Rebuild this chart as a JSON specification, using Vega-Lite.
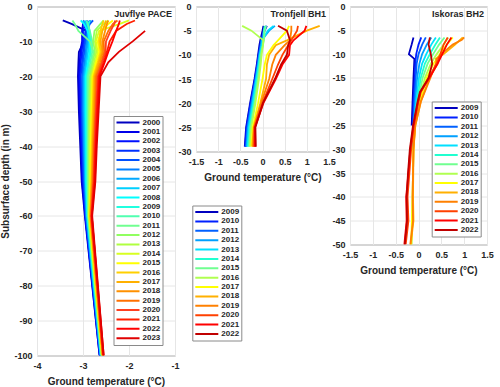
{
"$schema":"https://vega.github.io/schema/vega-lite/v6.json",
"padding":{"left":0,"top":1.5,"right":2,"bottom":2},
"bounds":"flush",
"spacing":21,
"datasets":{
"juv":[
{"y":"2000","d":-4,"t":-3.44},{"y":"2000","d":-5,"t":-3.25},{"y":"2000","d":-7,"t":-2.92},{"y":"2000","d":-10,"t":-2.98},{"y":"2000","d":-13,"t":-3.09},{"y":"2000","d":-16,"t":-3.10},{"y":"2000","d":-20,"t":-3.11},{"y":"2000","d":-30,"t":-3.09},{"y":"2000","d":-40,"t":-3.06},{"y":"2000","d":-50,"t":-3.03},{"y":"2000","d":-60,"t":-2.96},{"y":"2000","d":-100,"t":-2.64},
{"y":"2001","d":-4,"t":-2.98},{"y":"2001","d":-5,"t":-3.00},{"y":"2001","d":-7,"t":-3.02},{"y":"2001","d":-10,"t":-3.02},{"y":"2001","d":-13,"t":-3.06},{"y":"2001","d":-16,"t":-3.07},{"y":"2001","d":-20,"t":-3.09},{"y":"2001","d":-30,"t":-3.07},{"y":"2001","d":-40,"t":-3.04},{"y":"2001","d":-50,"t":-3.02},{"y":"2001","d":-60,"t":-2.95},{"y":"2001","d":-100,"t":-2.64},
{"y":"2002","d":-4,"t":-2.90},{"y":"2002","d":-5,"t":-2.95},{"y":"2002","d":-7,"t":-3.00},{"y":"2002","d":-10,"t":-3.00},{"y":"2002","d":-13,"t":-3.03},{"y":"2002","d":-16,"t":-3.05},{"y":"2002","d":-20,"t":-3.07},{"y":"2002","d":-30,"t":-3.05},{"y":"2002","d":-40,"t":-3.03},{"y":"2002","d":-50,"t":-3.00},{"y":"2002","d":-60,"t":-2.95},{"y":"2002","d":-100,"t":-2.63},
{"y":"2003","d":-4,"t":-2.85},{"y":"2003","d":-5,"t":-2.90},{"y":"2003","d":-7,"t":-2.95},{"y":"2003","d":-10,"t":-2.97},{"y":"2003","d":-13,"t":-3.00},{"y":"2003","d":-16,"t":-3.02},{"y":"2003","d":-20,"t":-3.05},{"y":"2003","d":-30,"t":-3.03},{"y":"2003","d":-40,"t":-3.01},{"y":"2003","d":-50,"t":-2.99},{"y":"2003","d":-60,"t":-2.94},{"y":"2003","d":-100,"t":-2.63},
{"y":"2004","d":-4,"t":-2.78},{"y":"2004","d":-5,"t":-2.85},{"y":"2004","d":-7,"t":-2.92},{"y":"2004","d":-10,"t":-2.95},{"y":"2004","d":-13,"t":-2.97},{"y":"2004","d":-16,"t":-3.00},{"y":"2004","d":-20,"t":-3.02},{"y":"2004","d":-30,"t":-3.02},{"y":"2004","d":-40,"t":-3.00},{"y":"2004","d":-50,"t":-2.98},{"y":"2004","d":-60,"t":-2.93},{"y":"2004","d":-100,"t":-2.62},
{"y":"2005","d":-4,"t":-2.82},{"y":"2005","d":-5,"t":-2.88},{"y":"2005","d":-7,"t":-2.90},{"y":"2005","d":-10,"t":-2.92},{"y":"2005","d":-13,"t":-2.94},{"y":"2005","d":-16,"t":-2.97},{"y":"2005","d":-20,"t":-3.00},{"y":"2005","d":-30,"t":-3.00},{"y":"2005","d":-40,"t":-2.98},{"y":"2005","d":-50,"t":-2.96},{"y":"2005","d":-60,"t":-2.93},{"y":"2005","d":-100,"t":-2.62},
{"y":"2006","d":-4,"t":-3.00},{"y":"2006","d":-5,"t":-2.95},{"y":"2006","d":-7,"t":-2.88},{"y":"2006","d":-10,"t":-2.90},{"y":"2006","d":-13,"t":-2.92},{"y":"2006","d":-16,"t":-2.94},{"y":"2006","d":-20,"t":-2.98},{"y":"2006","d":-30,"t":-2.98},{"y":"2006","d":-40,"t":-2.97},{"y":"2006","d":-50,"t":-2.95},{"y":"2006","d":-60,"t":-2.92},{"y":"2006","d":-100,"t":-2.62},
{"y":"2007","d":-4,"t":-2.95},{"y":"2007","d":-5,"t":-2.92},{"y":"2007","d":-7,"t":-2.87},{"y":"2007","d":-10,"t":-2.87},{"y":"2007","d":-13,"t":-2.89},{"y":"2007","d":-16,"t":-2.92},{"y":"2007","d":-20,"t":-2.96},{"y":"2007","d":-30,"t":-2.96},{"y":"2007","d":-40,"t":-2.95},{"y":"2007","d":-50,"t":-2.94},{"y":"2007","d":-60,"t":-2.91},{"y":"2007","d":-100,"t":-2.61},
{"y":"2008","d":-4,"t":-3.05},{"y":"2008","d":-5,"t":-2.98},{"y":"2008","d":-7,"t":-2.90},{"y":"2008","d":-10,"t":-2.85},{"y":"2008","d":-13,"t":-2.86},{"y":"2008","d":-16,"t":-2.89},{"y":"2008","d":-20,"t":-2.94},{"y":"2008","d":-30,"t":-2.94},{"y":"2008","d":-40,"t":-2.93},{"y":"2008","d":-50,"t":-2.93},{"y":"2008","d":-60,"t":-2.90},{"y":"2008","d":-100,"t":-2.61},
{"y":"2009","d":-4,"t":-2.85},{"y":"2009","d":-5,"t":-2.88},{"y":"2009","d":-7,"t":-2.86},{"y":"2009","d":-10,"t":-2.83},{"y":"2009","d":-13,"t":-2.83},{"y":"2009","d":-16,"t":-2.87},{"y":"2009","d":-20,"t":-2.92},{"y":"2009","d":-30,"t":-2.92},{"y":"2009","d":-40,"t":-2.92},{"y":"2009","d":-50,"t":-2.91},{"y":"2009","d":-60,"t":-2.90},{"y":"2009","d":-100,"t":-2.60},
{"y":"2010","d":-4,"t":-2.92},{"y":"2010","d":-5,"t":-2.90},{"y":"2010","d":-7,"t":-2.85},{"y":"2010","d":-10,"t":-2.80},{"y":"2010","d":-13,"t":-2.80},{"y":"2010","d":-16,"t":-2.84},{"y":"2010","d":-20,"t":-2.90},{"y":"2010","d":-30,"t":-2.90},{"y":"2010","d":-40,"t":-2.90},{"y":"2010","d":-50,"t":-2.90},{"y":"2010","d":-60,"t":-2.89},{"y":"2010","d":-100,"t":-2.60},
{"y":"2011","d":-4,"t":-3.23},{"y":"2011","d":-5,"t":-3.18},{"y":"2011","d":-7,"t":-3.10},{"y":"2011","d":-10,"t":-2.85},{"y":"2011","d":-13,"t":-2.77},{"y":"2011","d":-16,"t":-2.81},{"y":"2011","d":-20,"t":-2.88},{"y":"2011","d":-30,"t":-2.88},{"y":"2011","d":-40,"t":-2.89},{"y":"2011","d":-50,"t":-2.89},{"y":"2011","d":-60,"t":-2.88},{"y":"2011","d":-100,"t":-2.60},
{"y":"2012","d":-4,"t":-2.55},{"y":"2012","d":-5,"t":-2.62},{"y":"2012","d":-7,"t":-2.75},{"y":"2012","d":-10,"t":-2.78},{"y":"2012","d":-13,"t":-2.74},{"y":"2012","d":-16,"t":-2.79},{"y":"2012","d":-20,"t":-2.85},{"y":"2012","d":-30,"t":-2.87},{"y":"2012","d":-40,"t":-2.87},{"y":"2012","d":-50,"t":-2.87},{"y":"2012","d":-60,"t":-2.88},{"y":"2012","d":-100,"t":-2.59},
{"y":"2013","d":-4,"t":-2.45},{"y":"2013","d":-5,"t":-2.55},{"y":"2013","d":-7,"t":-2.70},{"y":"2013","d":-10,"t":-2.74},{"y":"2013","d":-13,"t":-2.71},{"y":"2013","d":-16,"t":-2.76},{"y":"2013","d":-20,"t":-2.83},{"y":"2013","d":-30,"t":-2.85},{"y":"2013","d":-40,"t":-2.86},{"y":"2013","d":-50,"t":-2.86},{"y":"2013","d":-60,"t":-2.87},{"y":"2013","d":-100,"t":-2.59},
{"y":"2014","d":-4,"t":-2.00},{"y":"2014","d":-5,"t":-2.20},{"y":"2014","d":-7,"t":-2.65},{"y":"2014","d":-10,"t":-2.72},{"y":"2014","d":-13,"t":-2.68},{"y":"2014","d":-16,"t":-2.73},{"y":"2014","d":-20,"t":-2.81},{"y":"2014","d":-30,"t":-2.83},{"y":"2014","d":-40,"t":-2.84},{"y":"2014","d":-50,"t":-2.85},{"y":"2014","d":-60,"t":-2.86},{"y":"2014","d":-100,"t":-2.59},
{"y":"2015","d":-4,"t":-2.35},{"y":"2015","d":-5,"t":-2.45},{"y":"2015","d":-7,"t":-2.60},{"y":"2015","d":-10,"t":-2.68},{"y":"2015","d":-13,"t":-2.65},{"y":"2015","d":-16,"t":-2.71},{"y":"2015","d":-20,"t":-2.79},{"y":"2015","d":-30,"t":-2.81},{"y":"2015","d":-40,"t":-2.83},{"y":"2015","d":-50,"t":-2.83},{"y":"2015","d":-60,"t":-2.86},{"y":"2015","d":-100,"t":-2.58},
{"y":"2016","d":-4,"t":-2.55},{"y":"2016","d":-5,"t":-2.58},{"y":"2016","d":-7,"t":-2.62},{"y":"2016","d":-10,"t":-2.65},{"y":"2016","d":-13,"t":-2.62},{"y":"2016","d":-16,"t":-2.68},{"y":"2016","d":-20,"t":-2.77},{"y":"2016","d":-30,"t":-2.79},{"y":"2016","d":-40,"t":-2.81},{"y":"2016","d":-50,"t":-2.82},{"y":"2016","d":-60,"t":-2.85},{"y":"2016","d":-100,"t":-2.58},
{"y":"2017","d":-4,"t":-2.50},{"y":"2017","d":-5,"t":-2.52},{"y":"2017","d":-7,"t":-2.58},{"y":"2017","d":-10,"t":-2.62},{"y":"2017","d":-13,"t":-2.59},{"y":"2017","d":-16,"t":-2.66},{"y":"2017","d":-20,"t":-2.75},{"y":"2017","d":-30,"t":-2.77},{"y":"2017","d":-40,"t":-2.79},{"y":"2017","d":-50,"t":-2.81},{"y":"2017","d":-60,"t":-2.84},{"y":"2017","d":-100,"t":-2.57},
{"y":"2018","d":-4,"t":-2.45},{"y":"2018","d":-5,"t":-2.48},{"y":"2018","d":-7,"t":-2.52},{"y":"2018","d":-10,"t":-2.58},{"y":"2018","d":-13,"t":-2.57},{"y":"2018","d":-16,"t":-2.63},{"y":"2018","d":-20,"t":-2.73},{"y":"2018","d":-30,"t":-2.75},{"y":"2018","d":-40,"t":-2.78},{"y":"2018","d":-50,"t":-2.80},{"y":"2018","d":-60,"t":-2.83},{"y":"2018","d":-100,"t":-2.57},
{"y":"2019","d":-4,"t":-2.25},{"y":"2019","d":-5,"t":-2.35},{"y":"2019","d":-7,"t":-2.45},{"y":"2019","d":-10,"t":-2.55},{"y":"2019","d":-13,"t":-2.54},{"y":"2019","d":-16,"t":-2.60},{"y":"2019","d":-20,"t":-2.71},{"y":"2019","d":-30,"t":-2.73},{"y":"2019","d":-40,"t":-2.76},{"y":"2019","d":-50,"t":-2.78},{"y":"2019","d":-60,"t":-2.83},{"y":"2019","d":-100,"t":-2.57},
{"y":"2020","d":-4,"t":-2.30},{"y":"2020","d":-5,"t":-2.32},{"y":"2020","d":-7,"t":-2.40},{"y":"2020","d":-10,"t":-2.50},{"y":"2020","d":-13,"t":-2.51},{"y":"2020","d":-16,"t":-2.58},{"y":"2020","d":-20,"t":-2.68},{"y":"2020","d":-30,"t":-2.72},{"y":"2020","d":-40,"t":-2.75},{"y":"2020","d":-50,"t":-2.77},{"y":"2020","d":-60,"t":-2.82},{"y":"2020","d":-100,"t":-2.56},
{"y":"2021","d":-4,"t":-1.87},{"y":"2021","d":-5,"t":-2.05},{"y":"2021","d":-7,"t":-2.28},{"y":"2021","d":-10,"t":-2.42},{"y":"2021","d":-13,"t":-2.48},{"y":"2021","d":-16,"t":-2.55},{"y":"2021","d":-20,"t":-2.66},{"y":"2021","d":-30,"t":-2.70},{"y":"2021","d":-40,"t":-2.73},{"y":"2021","d":-50,"t":-2.76},{"y":"2021","d":-60,"t":-2.81},{"y":"2021","d":-100,"t":-2.56},
{"y":"2022","d":-4,"t":-2.20},{"y":"2022","d":-5,"t":-2.22},{"y":"2022","d":-7,"t":-2.28},{"y":"2022","d":-10,"t":-2.36},{"y":"2022","d":-13,"t":-2.45},{"y":"2022","d":-16,"t":-2.53},{"y":"2022","d":-20,"t":-2.64},{"y":"2022","d":-30,"t":-2.68},{"y":"2022","d":-40,"t":-2.72},{"y":"2022","d":-50,"t":-2.74},{"y":"2022","d":-60,"t":-2.81},{"y":"2022","d":-100,"t":-2.55},
{"y":"2023","d":-7,"t":-1.65},{"y":"2023","d":-10,"t":-1.92},{"y":"2023","d":-13,"t":-2.22},{"y":"2023","d":-16,"t":-2.45},{"y":"2023","d":-20,"t":-2.62},{"y":"2023","d":-30,"t":-2.66},{"y":"2023","d":-40,"t":-2.70},{"y":"2023","d":-50,"t":-2.73},{"y":"2023","d":-60,"t":-2.80},{"y":"2023","d":-100,"t":-2.55}
],
"tron":[
{"y":"2009","d":-4,"t":0.02},{"y":"2009","d":-5,"t":0.0},{"y":"2009","d":-7,"t":-0.05},{"y":"2009","d":-8,"t":-0.07},{"y":"2009","d":-10,"t":-0.10},{"y":"2009","d":-12,"t":-0.13},{"y":"2009","d":-15,"t":-0.18},{"y":"2009","d":-20,"t":-0.28},{"y":"2009","d":-25,"t":-0.37},{"y":"2009","d":-29,"t":-0.40},
{"y":"2010","d":-4,"t":0.10},{"y":"2010","d":-5,"t":0.05},{"y":"2010","d":-7,"t":-0.03},{"y":"2010","d":-8,"t":-0.05},{"y":"2010","d":-10,"t":-0.09},{"y":"2010","d":-12,"t":-0.12},{"y":"2010","d":-15,"t":-0.17},{"y":"2010","d":-20,"t":-0.27},{"y":"2010","d":-25,"t":-0.36},{"y":"2010","d":-29,"t":-0.39},
{"y":"2011","d":-4,"t":0.08},{"y":"2011","d":-5,"t":0.03},{"y":"2011","d":-7,"t":-0.02},{"y":"2011","d":-8,"t":-0.04},{"y":"2011","d":-10,"t":-0.08},{"y":"2011","d":-12,"t":-0.11},{"y":"2011","d":-15,"t":-0.16},{"y":"2011","d":-20,"t":-0.25},{"y":"2011","d":-25,"t":-0.34},{"y":"2011","d":-29,"t":-0.37},
{"y":"2012","d":-4,"t":0.28},{"y":"2012","d":-5,"t":0.15},{"y":"2012","d":-7,"t":-0.02},{"y":"2012","d":-8,"t":-0.03},{"y":"2012","d":-10,"t":-0.07},{"y":"2012","d":-12,"t":-0.10},{"y":"2012","d":-15,"t":-0.15},{"y":"2012","d":-20,"t":-0.24},{"y":"2012","d":-25,"t":-0.33},{"y":"2012","d":-29,"t":-0.36},
{"y":"2013","d":-4,"t":0.25},{"y":"2013","d":-5,"t":0.12},{"y":"2013","d":-7,"t":0.0},{"y":"2013","d":-8,"t":-0.02},{"y":"2013","d":-10,"t":-0.06},{"y":"2013","d":-12,"t":-0.09},{"y":"2013","d":-15,"t":-0.14},{"y":"2013","d":-20,"t":-0.22},{"y":"2013","d":-25,"t":-0.31},{"y":"2013","d":-29,"t":-0.34},
{"y":"2014","d":-4,"t":0.05},{"y":"2014","d":-5,"t":0.03},{"y":"2014","d":-7,"t":0.02},{"y":"2014","d":-8,"t":0.0},{"y":"2014","d":-10,"t":-0.05},{"y":"2014","d":-12,"t":-0.08},{"y":"2014","d":-15,"t":-0.12},{"y":"2014","d":-20,"t":-0.20},{"y":"2014","d":-25,"t":-0.29},{"y":"2014","d":-29,"t":-0.32},
{"y":"2015","d":-4,"t":0.08},{"y":"2015","d":-5,"t":0.05},{"y":"2015","d":-7,"t":0.03},{"y":"2015","d":-8,"t":0.01},{"y":"2015","d":-10,"t":-0.04},{"y":"2015","d":-12,"t":-0.06},{"y":"2015","d":-15,"t":-0.10},{"y":"2015","d":-20,"t":-0.18},{"y":"2015","d":-25,"t":-0.27},{"y":"2015","d":-29,"t":-0.30},
{"y":"2016","d":-4,"t":-0.46},{"y":"2016","d":-5,"t":-0.25},{"y":"2016","d":-7,"t":0.02},{"y":"2016","d":-8,"t":0.01},{"y":"2016","d":-10,"t":-0.02},{"y":"2016","d":-12,"t":-0.04},{"y":"2016","d":-15,"t":-0.08},{"y":"2016","d":-20,"t":-0.16},{"y":"2016","d":-25,"t":-0.25},{"y":"2016","d":-29,"t":-0.28},
{"y":"2017","d":-4,"t":0.60},{"y":"2017","d":-5,"t":0.55},{"y":"2017","d":-7,"t":0.35},{"y":"2017","d":-8,"t":0.25},{"y":"2017","d":-10,"t":0.10},{"y":"2017","d":-12,"t":0.05},{"y":"2017","d":-15,"t":0.0},{"y":"2017","d":-20,"t":-0.10},{"y":"2017","d":-25,"t":-0.22},{"y":"2017","d":-29,"t":-0.25},
{"y":"2018","d":-4,"t":1.29},{"y":"2018","d":-5,"t":1.00},{"y":"2018","d":-7,"t":0.55},{"y":"2018","d":-8,"t":0.30},{"y":"2018","d":-10,"t":0.15},{"y":"2018","d":-12,"t":0.10},{"y":"2018","d":-15,"t":0.08},{"y":"2018","d":-20,"t":-0.05},{"y":"2018","d":-25,"t":-0.20},{"y":"2018","d":-29,"t":-0.23},
{"y":"2019","d":-4,"t":0.65},{"y":"2019","d":-5,"t":0.65},{"y":"2019","d":-7,"t":0.62},{"y":"2019","d":-8,"t":0.50},{"y":"2019","d":-10,"t":0.30},{"y":"2019","d":-12,"t":0.22},{"y":"2019","d":-15,"t":0.15},{"y":"2019","d":-20,"t":-0.03},{"y":"2019","d":-25,"t":-0.19},{"y":"2019","d":-29,"t":-0.21},
{"y":"2020","d":-4,"t":0.80},{"y":"2020","d":-5,"t":0.78},{"y":"2020","d":-7,"t":0.65},{"y":"2020","d":-8,"t":0.58},{"y":"2020","d":-10,"t":0.45},{"y":"2020","d":-12,"t":0.35},{"y":"2020","d":-15,"t":0.22},{"y":"2020","d":-20,"t":0.0},{"y":"2020","d":-25,"t":-0.18},{"y":"2020","d":-29,"t":-0.19},
{"y":"2021","d":-4,"t":0.99},{"y":"2021","d":-5,"t":0.95},{"y":"2021","d":-7,"t":0.70},{"y":"2021","d":-8,"t":0.62},{"y":"2021","d":-10,"t":0.60},{"y":"2021","d":-12,"t":0.45},{"y":"2021","d":-15,"t":0.30},{"y":"2021","d":-20,"t":0.02},{"y":"2021","d":-25,"t":-0.17},{"y":"2021","d":-29,"t":-0.17},
{"y":"2022","d":-4,"t":0.35},{"y":"2022","d":-5,"t":0.55},{"y":"2022","d":-7,"t":0.62},{"y":"2022","d":-8,"t":0.58},{"y":"2022","d":-10,"t":0.55},{"y":"2022","d":-12,"t":0.42},{"y":"2022","d":-15,"t":0.28},{"y":"2022","d":-20,"t":0.01},{"y":"2022","d":-25,"t":-0.16},{"y":"2022","d":-29,"t":-0.15}
],
"isk":[
{"y":"2009","d":-6.5,"t":-0.11},{"y":"2009","d":-8,"t":-0.15},{"y":"2009","d":-10,"t":-0.21},{"y":"2009","d":-11,"t":-0.09},{"y":"2009","d":-15,"t":-0.11},{"y":"2009","d":-20,"t":-0.13},{"y":"2009","d":-25,"t":-0.15},
{"y":"2010","d":-6.5,"t":0.06},{"y":"2010","d":-8,"t":0.0},{"y":"2010","d":-10,"t":-0.05},{"y":"2010","d":-12,"t":-0.07},{"y":"2010","d":-15,"t":-0.08},{"y":"2010","d":-20,"t":-0.11},{"y":"2010","d":-25,"t":-0.12},{"y":"2010","d":-30,"t":-0.13},
{"y":"2011","d":-6.5,"t":0.16},{"y":"2011","d":-8,"t":0.08},{"y":"2011","d":-10,"t":0.0},{"y":"2011","d":-12,"t":-0.04},{"y":"2011","d":-15,"t":-0.06},{"y":"2011","d":-20,"t":-0.09},{"y":"2011","d":-25,"t":-0.11},{"y":"2011","d":-30,"t":-0.12},
{"y":"2012","d":-6.5,"t":0.28},{"y":"2012","d":-8,"t":0.18},{"y":"2012","d":-10,"t":0.08},{"y":"2012","d":-12,"t":0.02},{"y":"2012","d":-15,"t":-0.03},{"y":"2012","d":-20,"t":-0.07},{"y":"2012","d":-25,"t":-0.10},{"y":"2012","d":-30,"t":-0.12},
{"y":"2013","d":-6.5,"t":0.38},{"y":"2013","d":-8,"t":0.28},{"y":"2013","d":-10,"t":0.17},{"y":"2013","d":-12,"t":0.08},{"y":"2013","d":-15,"t":0.01},{"y":"2013","d":-20,"t":-0.05},{"y":"2013","d":-25,"t":-0.10},{"y":"2013","d":-30,"t":-0.12},
{"y":"2014","d":-6.5,"t":0.47},{"y":"2014","d":-8,"t":0.37},{"y":"2014","d":-10,"t":0.25},{"y":"2014","d":-12,"t":0.14},{"y":"2014","d":-15,"t":0.05},{"y":"2014","d":-20,"t":-0.03},{"y":"2014","d":-25,"t":-0.09},{"y":"2014","d":-30,"t":-0.12},
{"y":"2015","d":-6.5,"t":0.57},{"y":"2015","d":-8,"t":0.45},{"y":"2015","d":-10,"t":0.32},{"y":"2015","d":-12,"t":0.20},{"y":"2015","d":-15,"t":0.09},{"y":"2015","d":-20,"t":-0.01},{"y":"2015","d":-25,"t":-0.09},{"y":"2015","d":-30,"t":-0.12},
{"y":"2016","d":-6.5,"t":0.65},{"y":"2016","d":-8,"t":0.55},{"y":"2016","d":-10,"t":0.40},{"y":"2016","d":-12,"t":0.27},{"y":"2016","d":-15,"t":0.14},{"y":"2016","d":-20,"t":0.01},{"y":"2016","d":-25,"t":-0.08},{"y":"2016","d":-30,"t":-0.11},{"y":"2016","d":-40,"t":-0.13},{"y":"2016","d":-50,"t":-0.15},
{"y":"2017","d":-6.5,"t":0.75},{"y":"2017","d":-8,"t":0.62},{"y":"2017","d":-10,"t":0.47},{"y":"2017","d":-12,"t":0.33},{"y":"2017","d":-15,"t":0.18},{"y":"2017","d":-20,"t":0.03},{"y":"2017","d":-25,"t":-0.08},{"y":"2017","d":-30,"t":-0.11},{"y":"2017","d":-40,"t":-0.13},{"y":"2017","d":-50,"t":-0.16},
{"y":"2018","d":-6.5,"t":0.97},{"y":"2018","d":-8,"t":0.80},{"y":"2018","d":-10,"t":0.55},{"y":"2018","d":-11,"t":0.38},{"y":"2018","d":-12,"t":0.42},{"y":"2018","d":-15,"t":0.24},{"y":"2018","d":-20,"t":0.05},{"y":"2018","d":-25,"t":-0.07},{"y":"2018","d":-30,"t":-0.11},{"y":"2018","d":-40,"t":-0.12},{"y":"2018","d":-45,"t":-0.11},{"y":"2018","d":-50,"t":-0.17},
{"y":"2019","d":-6.5,"t":1.0},{"y":"2019","d":-7,"t":0.95},{"y":"2019","d":-8,"t":0.75},{"y":"2019","d":-10,"t":0.50},{"y":"2019","d":-11,"t":0.40},{"y":"2019","d":-12,"t":0.38},{"y":"2019","d":-15,"t":0.26},{"y":"2019","d":-20,"t":0.05},{"y":"2019","d":-25,"t":-0.07},{"y":"2019","d":-30,"t":-0.11},{"y":"2019","d":-40,"t":-0.13},{"y":"2019","d":-45,"t":-0.12},{"y":"2019","d":-50,"t":-0.18},
{"y":"2020","d":-6.5,"t":0.64},{"y":"2020","d":-8,"t":0.55},{"y":"2020","d":-10,"t":0.48},{"y":"2020","d":-12,"t":0.40},{"y":"2020","d":-15,"t":0.22},{"y":"2020","d":-18,"t":0.05},{"y":"2020","d":-20,"t":0.0},{"y":"2020","d":-25,"t":-0.10},{"y":"2020","d":-30,"t":-0.16},{"y":"2020","d":-35,"t":-0.20},{"y":"2020","d":-40,"t":-0.24},{"y":"2020","d":-45,"t":-0.22},{"y":"2020","d":-50,"t":-0.28},
{"y":"2021","d":-6.5,"t":0.72},{"y":"2021","d":-8,"t":0.62},{"y":"2021","d":-10,"t":0.52},{"y":"2021","d":-12,"t":0.42},{"y":"2021","d":-15,"t":0.24},{"y":"2021","d":-18,"t":0.04},{"y":"2021","d":-20,"t":-0.01},{"y":"2021","d":-25,"t":-0.11},{"y":"2021","d":-30,"t":-0.18},{"y":"2021","d":-35,"t":-0.22},{"y":"2021","d":-40,"t":-0.27},{"y":"2021","d":-45,"t":-0.26},{"y":"2021","d":-50,"t":-0.31},
{"y":"2022","d":-6.5,"t":0.25},{"y":"2022","d":-8,"t":0.22},{"y":"2022","d":-10,"t":0.27},{"y":"2022","d":-12,"t":0.30},{"y":"2022","d":-15,"t":0.22},{"y":"2022","d":-18,"t":0.03},{"y":"2022","d":-20,"t":-0.02},{"y":"2022","d":-25,"t":-0.12},{"y":"2022","d":-30,"t":-0.19},{"y":"2022","d":-35,"t":-0.23},{"y":"2022","d":-40,"t":-0.26},{"y":"2022","d":-45,"t":-0.25},{"y":"2022","d":-50,"t":-0.30}
]
},
"hconcat":[
{
"width":138,"height":349,
"encoding":{
"x":{"field":"t","type":"quantitative","scale":{"domain":[-4,-1],"nice":false,"zero":false},"axis":{"values":[-4,-3,-2,-1],"title":"Ground temperature (°C)"}},
"y":{"field":"d","type":"quantitative","scale":{"domain":[-100,0],"nice":false,"zero":false},"axis":{"values":[-100,-90,-80,-70,-60,-50,-40,-30,-20,-10,0],"title":"Subsurface depth (in m)"}}
},
"layer":[
{
"data":{"name":"juv"},
"mark":{"type":"line","strokeWidth":1.8,"clip":true},
"encoding":{
"color":{"field":"y","type":"nominal","scale":{"domain":["2000","2001","2002","2003","2004","2005","2006","2007","2008","2009","2010","2011","2012","2013","2014","2015","2016","2017","2018","2019","2020","2021","2022","2023"],"range":["#0000C0","#0000E8","#0010FF","#0030FF","#0050FF","#0080FF","#00A8FF","#00D0FF","#00FFFF","#20FFE0","#50FFB0","#70FF90","#90FF60","#B0FF40","#D8FF20","#FFFF00","#FFD000","#FFB000","#FF9000","#FF7000","#FF4020","#FF2000","#FF0000","#E00000"]},"legend":{"legendX":76.5,"legendY":109.5}},
"order":{"field":"d","sort":"descending"}
}
},
{
"data":{"values":[{"name":"Juvflye PACE","t":-1,"d":0}]},
"mark":{"type":"text","align":"right","baseline":"top","dx":-3,"dy":3,"font":"Liberation Sans","fontSize":9,"fontWeight":"bold","color":"#262626"},
"encoding":{"text":{"field":"name"}}
}
]
},
{
"width":133,"height":145,
"encoding":{
"x":{"field":"t","type":"quantitative","scale":{"domain":[-1.5,1.5],"nice":false,"zero":false},"axis":{"values":[-1.5,-1,-0.5,0,0.5,1,1.5],"title":"Ground temperature (°C)"}},
"y":{"field":"d","type":"quantitative","scale":{"domain":[-30,0],"nice":false,"zero":false},"axis":{"values":[-30,-25,-20,-15,-10,-5,0],"title":null}}
},
"layer":[
{
"data":{"name":"tron"},
"mark":{"type":"line","strokeWidth":1.8,"clip":true},
"encoding":{
"color":{"field":"y","type":"nominal","scale":{"domain":["2009","2010","2011","2012","2013","2014","2015","2016","2017","2018","2019","2020","2021","2022"],"range":["#0000BF","#0020FF","#0060FF","#00A0FF","#00E0FF","#20FFD0","#70FF90","#B0FF50","#FFFF00","#FFB000","#FF8000","#FF4000","#FF0000","#C00000"]},"legend":{"legendX":-3.7,"legendY":199}},
"order":{"field":"d","sort":"descending"}
}
},
{
"data":{"values":[{"name":"Tronfjell BH1","t":1.5,"d":0}]},
"mark":{"type":"text","align":"right","baseline":"top","dx":-3,"dy":3,"font":"Liberation Sans","fontSize":9,"fontWeight":"bold","color":"#262626"},
"encoding":{"text":{"field":"name"}}
}
]
},
{
"width":137,"height":238,
"encoding":{
"x":{"field":"t","type":"quantitative","scale":{"domain":[-1.5,1.5],"nice":false,"zero":false},"axis":{"values":[-1.5,-1,-0.5,0,0.5,1,1.5],"title":"Ground temperature (°C)"}},
"y":{"field":"d","type":"quantitative","scale":{"domain":[-50,0],"nice":false,"zero":false},"axis":{"values":[-50,-45,-40,-35,-30,-25,-20,-15,-10,-5,0],"title":null}}
},
"layer":[
{
"data":{"name":"isk"},
"mark":{"type":"line","strokeWidth":1.8,"clip":true},
"encoding":{
"color":{"field":"y","type":"nominal","scale":{"domain":["2009","2010","2011","2012","2013","2014","2015","2016","2017","2018","2019","2020","2021","2022"],"range":["#0000BF","#0020FF","#0060FF","#00A0FF","#00E0FF","#20FFD0","#70FF90","#B0FF50","#FFFF00","#FFB000","#FF8000","#FF4000","#FF0000","#C00000"]},"legend":{"legendX":81.7,"legendY":95}},
"order":{"field":"d","sort":"descending"}
}
},
{
"data":{"values":[{"name":"Iskoras BH2","t":1.5,"d":0}]},
"mark":{"type":"text","align":"right","baseline":"top","dx":-3,"dy":3,"font":"Liberation Sans","fontSize":9,"fontWeight":"bold","color":"#262626"},
"encoding":{"text":{"field":"name"}}
}
]
}
],
"resolve":{"scale":{"x":"independent","y":"independent","color":"independent"},"legend":{"color":"independent"}},
"config":{
"font":"Liberation Sans",
"view":{"stroke":"#8a8a8a"},
"axis":{"labelFont":"Liberation Sans","labelFontSize":9,"labelFontWeight":"bold","labelColor":"#262626","titleFont":"Liberation Sans","titleFontSize":10,"titleFontWeight":"bold","titleColor":"#262626","ticks":false,"domain":false,"gridColor":"#e6e6e6","labelFlush":false,"labelOverlap":false,"labelBound":false,"labelExpr":"'' + datum.value"},
"axisY":{"titlePadding":3,"labelPadding":5},
"axisX":{"titlePadding":6,"labelPadding":5.5},
"legend":{"orient":"none","title":null,"symbolSize":529,"symbolStrokeWidth":2,"labelFont":"Liberation Sans","labelFontSize":8,"labelFontWeight":"bold","labelColor":"#262626","clipHeight":9,"rowPadding":0.38,"padding":2,"strokeColor":"#8a8a8a","fillColor":"white","labelOffset":2}
}
}
